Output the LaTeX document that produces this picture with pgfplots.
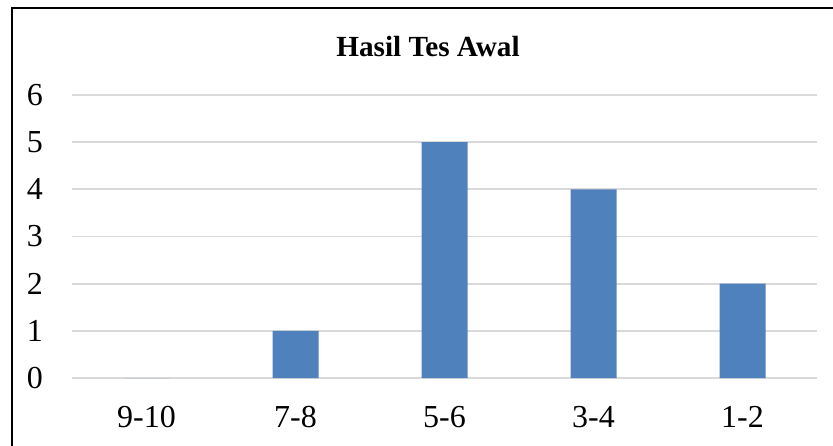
\documentclass[border=0pt]{standalone}
\usepackage{fontspec}
\setmainfont{Liberation Serif}
\usepackage{pgfplots}
\pgfplotsset{compat=1.18}
\definecolor{barblue}{HTML}{4F81BD}
\definecolor{gridgray}{HTML}{D9D9D9}

\begin{document}
\begin{tikzpicture}[x=0.5pt,y=0.5pt]
  % page is 833 x 445 px, 1px = 0.5pt, y measured from the bottom
  \useasboundingbox (0,0) rectangle (833,445);
  \draw[line width=1.3pt] (12,-40) -- (12,437) -- (880,437);
  \node[font=\fontsize{14.6}{16}\selectfont\bfseries] at (428,398) {Hasil Tes Awal};
  \begin{axis}[
      at={(36pt,33.5pt)}, anchor=south west,
      scale only axis,
      width=372.5pt, height=141.5pt,
      ymin=0, ymax=6,
      xmin=-0.5, xmax=4.5,
      ytick={0,1,2,3,4,5,6},
      xtick={0,1,2,3,4},
      xticklabels={9-10, 7-8, 5-6, 3-4, 1-2},
      axis line style={draw=none},
      major tick length=0pt,
      ymajorgrids,
      grid style={gridgray, line width=0.9pt},
      tick label style={font=\fontsize{16}{18}\selectfont},
      /pgf/number format/assume math mode=true,
      yticklabel style={xshift=-11pt},
      xticklabel style={yshift=-10.5pt},
      clip=false,
    ]
    \addplot[ybar, bar width=23pt, fill=barblue, draw=none]
      coordinates {(0,0) (1,1) (2,5) (3,4) (4,2)};
  \end{axis}
\end{tikzpicture}
\end{document}
